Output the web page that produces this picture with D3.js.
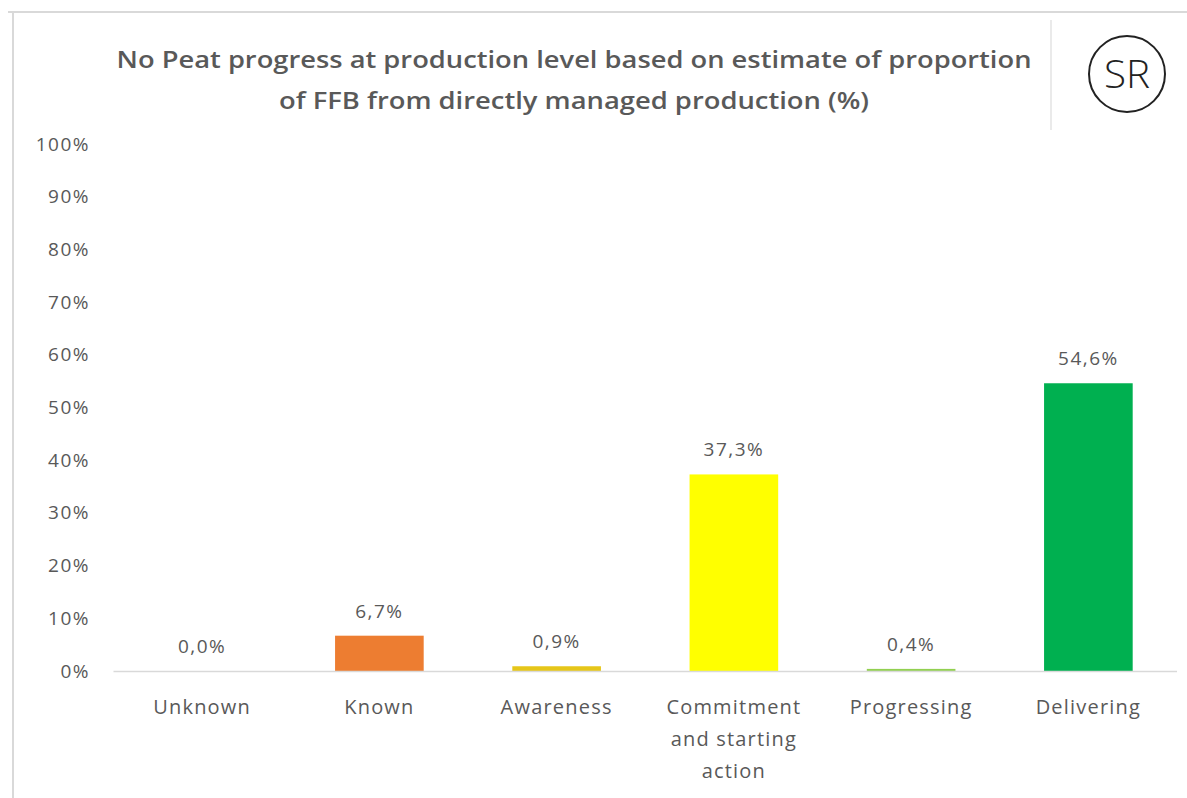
<!DOCTYPE html>
<html><head><meta charset="utf-8">
<script src="https://cdn.jsdelivr.net/npm/d3@7"></script>
<style>body{margin:0;background:#fff;}svg{display:block;}</style>
</head><body>
<svg id="c" width="1187" height="798"></svg>
<script>
const categories = [["Unknown"],["Known"],["Awareness"],["Commitment","and starting","action"],["Progressing"],["Delivering"]];
const values = [0.0, 6.7, 0.9, 37.3, 0.4, 54.6];
const labels = ["0,0%","6,7%","0,9%","37,3%","0,4%","54,6%"];
const colors = ["#A5A5A5","#ED7D31","#E6C619","#FFFF00","#92D050","#00B050"];
const yTicks = [0,10,20,30,40,50,60,70,80,90,100];
const titleLines = ["No Peat progress at production level based on estimate of proportion","of FFB from directly managed production (%)"];

const svg = d3.select("#c");
const font = "'Open Sans',sans-serif";
const grey = "#595959";

// frame
svg.append("line").attr("x1",8).attr("x2",1187).attr("y1",12).attr("y2",12).attr("stroke","#d9d9d9").attr("stroke-width",2);
svg.append("line").attr("x1",13).attr("x2",13).attr("y1",12).attr("y2",798).attr("stroke","#d9d9d9").attr("stroke-width",2);
svg.append("line").attr("x1",1051).attr("x2",1051).attr("y1",20).attr("y2",130).attr("stroke","#e3e3e3").attr("stroke-width",1.5);
svg.append("circle").attr("cx",1127).attr("cy",74).attr("r",38).attr("fill","none").attr("stroke","#222").attr("stroke-width",2);
svg.append("text").attr("x",1127).attr("y",88).attr("text-anchor","middle").attr("font-family","'Open Sans',sans-serif")
  .attr("font-size",38).attr("font-weight",300).attr("fill","#222").attr("textLength",46).attr("lengthAdjust","spacingAndGlyphs").text("SR");

// title
const tw = [915, 590];
titleLines.forEach((t,i)=>{
  svg.append("text").attr("x",574).attr("y",68+i*41).attr("text-anchor","middle")
    .attr("font-family","'Open Sans',sans-serif").attr("font-weight",600).attr("font-size",23).attr("fill",grey)
    .attr("textLength",tw[i]).attr("lengthAdjust","spacingAndGlyphs").text(t);
});

const x = d3.scaleBand().domain(d3.range(values.length)).range([113.5,1177]).paddingInner(0.5).paddingOuter(0.25);
const y = d3.scaleLinear().domain([0,100]).range([671,144]);

// y axis labels
const ya = svg.append("g").attr("transform","translate(90,0)")
  .call(d3.axisLeft(y).tickValues(yTicks).tickFormat(d=>d+"%").tickSize(0).tickPadding(0));
ya.select(".domain").remove();
ya.selectAll("text").attr("font-family",font).attr("font-size",19).attr("letter-spacing","1.5px").attr("fill",grey);

// bars
svg.selectAll("rect.bar").data(values).join("rect").attr("class","bar")
  .attr("x",(d,i)=>x(i)).attr("width",x.bandwidth())
  .attr("y",d=>y(d)).attr("height",d=>y(0)-y(d)).attr("fill",(d,i)=>colors[i]);

// baseline
svg.append("line").attr("x1",113.5).attr("x2",1177).attr("y1",y(0)+0.5).attr("y2",y(0)+0.5).attr("stroke","#d9d9d9").attr("stroke-width",1.5);

// data labels
svg.selectAll("text.dl").data(values).join("text").attr("class","dl")
  .attr("x",(d,i)=>x(i)+x.bandwidth()/2).attr("y",d=>y(d)-18)
  .attr("text-anchor","middle").attr("font-family",font).attr("font-size",19).attr("letter-spacing","1.5px").attr("fill",grey)
  .text((d,i)=>labels[i]);

// category labels
const xa = svg.append("g").attr("transform",`translate(0,${y(0)})`);
categories.forEach((lines,i)=>{
  const t = xa.append("text").attr("text-anchor","middle").attr("font-family",font).attr("font-size",20).attr("letter-spacing","1.2px").attr("fill",grey);
  lines.forEach((l,j)=>t.append("tspan").attr("x",x(i)+x.bandwidth()/2).attr("y",43+j*32).text(l));
});
</script>
</body></html>
